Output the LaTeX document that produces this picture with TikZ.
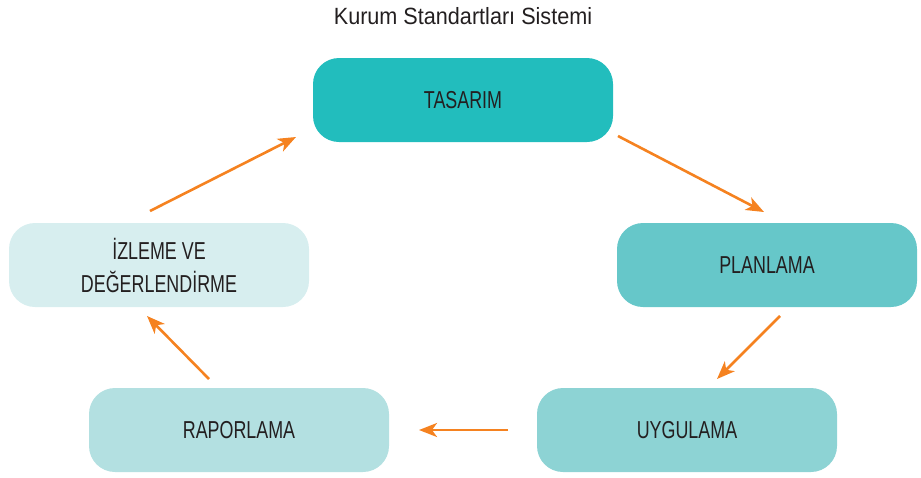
\documentclass[tikz,border=0pt]{standalone}
\usepackage{fontspec}
\setmainfont{Liberation Sans}[FakeStretch=0.73]
\newfontfamily\basfont{Liberation Sans}[FakeStretch=0.92]
\usetikzlibrary{arrows.meta}
\definecolor{tasarimc}{HTML}{22BDBD}
\definecolor{planlamac}{HTML}{66C7C9}
\definecolor{uygulamac}{HTML}{8DD3D4}
\definecolor{raporlamac}{HTML}{B3E0E1}
\definecolor{izlemec}{HTML}{D7EEEF}
\definecolor{oklar}{HTML}{F58220}
\definecolor{yazi}{HTML}{231F20}
\tikzset{
  asama/.style={rounded corners=26pt, minimum width=300pt, minimum height=84pt,
                inner sep=0pt, text=yazi, align=center,
                font=\fontsize{24.5}{33}\selectfont},
  ok/.style={draw=oklar, line width=2.6pt,
             -{Stealth[length=18pt, width=14pt, inset=5pt]}}
}
\begin{document}
\begin{tikzpicture}[x=1pt,y=-1pt]
\useasboundingbox (0,0) rectangle (921,477);
\node[anchor=base, text=yazi, font=\basfont\fontsize{23.5}{28}\selectfont] (baslik) at (463,24) {Kurum Standartları Sistemi};
% asamalar
\node[asama, fill=tasarimc]   (tasarim)   at (463,100) {TASARIM};
\node[asama, fill=planlamac]  (planlama)  at (767,265) {PLANLAMA};
\node[asama, fill=uygulamac]  (uygulama)  at (687,430) {UYGULAMA};
\node[asama, fill=raporlamac] (raporlama) at (239,430) {RAPORLAMA};
\node[asama, fill=izlemec]    (izleme)    at (159,265) {İZLEME VE\\DEĞERLENDİRME};
% ok uclari
\coordinate (tp) at (618,136);  \coordinate (pt) at (764,212);
\coordinate (pu) at (780,316);  \coordinate (up) at (717,379);
\coordinate (ur) at (508,430);  \coordinate (ru) at (419,430);
\coordinate (ri) at (209,379);  \coordinate (ir) at (147,316);
\coordinate (it) at (150,211);  \coordinate (ti) at (296,137);
\draw[ok] (tp) -- (pt);
\draw[ok] (pu) -- (up);
\draw[ok] (ur) -- (ru);
\draw[ok] (ri) -- (ir);
\draw[ok] (it) -- (ti);
\end{tikzpicture}
\end{document}
